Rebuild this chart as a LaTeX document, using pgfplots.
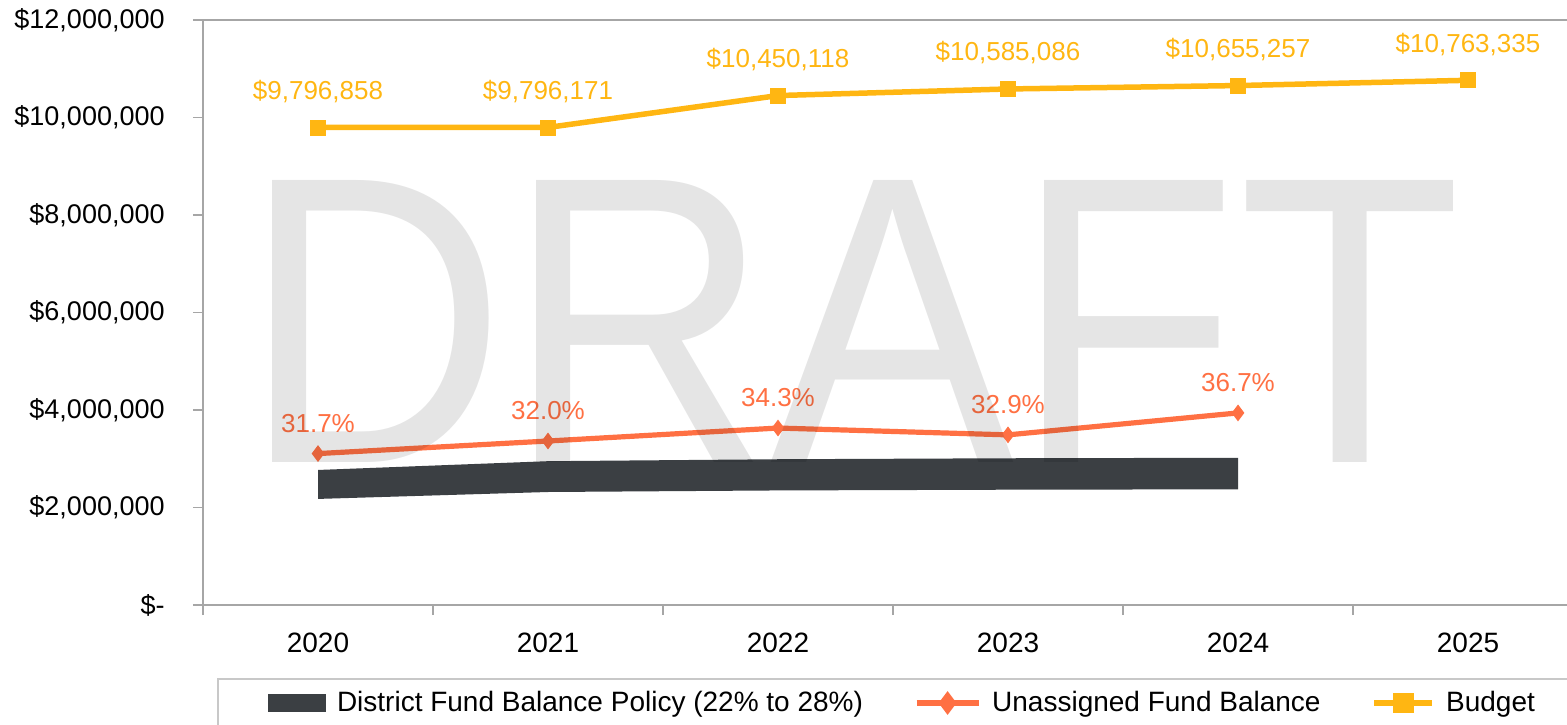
\documentclass[border=0pt]{standalone}
\usepackage{fontspec}
\setmainfont{Liberation Sans}
\usepackage{pgfplots}
\pgfplotsset{compat=1.18}
\definecolor{budget}{HTML}{FFB612}
\definecolor{unas}{HTML}{FF7043}
\definecolor{band}{HTML}{3B3F43}
\definecolor{axgray}{HTML}{A6A6A6}
\definecolor{boxgray}{HTML}{C8C8C8}
\begin{document}
\begin{tikzpicture}
\begin{axis}[
  scale only axis, width=690pt, height=292.5pt,
  at={(101.5pt,59.5pt)}, anchor=south west,
  xmin=-0.5, xmax=5.5, ymin=0, ymax=12000000,
  scaled y ticks=false,
  axis line style={draw=axgray, line width=0.8pt},
  xtick={-0.5,0.5,1.5,2.5,3.5,4.5,5.5},
  xticklabels={},
  extra x ticks={0,1,2,3,4,5},
  extra x tick labels={2020,2021,2022,2023,2024,2025},
  extra x tick style={major tick length=0pt, tick style={draw=none}},
  ytick={0,2000000,4000000,6000000,8000000,10000000,12000000},
  yticklabels={\$-,{\$2,000,000},{\$4,000,000},{\$6,000,000},{\$8,000,000},{\$10,000,000},{\$12,000,000}},
  tick style={draw=axgray, line width=0.8pt},
  tick align=outside, major tick length=5pt,
  xtick pos=left, ytick pos=left,
  xticklabel style={font=\fontsize{14}{16}\selectfont, inner sep=0pt, anchor=north, yshift=-14pt},
  yticklabel style={font=\fontsize{13.5}{16}\selectfont, inner sep=0pt, anchor=east, xshift=-14pt},
  clip=false,
  legend columns=3,
  legend style={at={(0.0471,-0.1675)}, anchor=west, draw=none, fill=none, inner sep=0pt, outer sep=0pt,
    font=\fontsize{14}{16}\selectfont,
    nodes={inner sep=0pt},
    /tikz/every odd column/.append style={column sep=5.5pt},
    /tikz/every even column/.append style={column sep=25.5pt}},
]
\addplot[fill=band, draw=none,
  legend image code/.code={\fill[band] (0pt,-4.5pt) rectangle (29pt,4.5pt);}]
  coordinates {(0,2770000)(1,2950000)(2,2990000)(3,3010000)(4,3020000)
               (4,2373000)(3,2365000)(2,2350000)(1,2318000)(0,2176000)} -- cycle;
\addlegendentry{District Fund Balance Policy (22\% to 28\%)}

\addplot[unas, line width=2.6pt, mark=diamond*, mark size=3.8pt, mark options={solid, fill=unas, draw=unas, line width=0.5pt},
  nodes near coords, point meta=explicit symbolic,
  every node near coord/.append style={font=\fontsize{13}{15}\selectfont, text=unas, anchor=center, yshift=15pt},
  legend image code/.code={\draw[unas, line width=2.6pt] (0pt,0pt) -- (31pt,0pt);
     \fill[unas] (15.5pt,3.8pt) -- (18.35pt,0pt) -- (15.5pt,-3.8pt) -- (12.65pt,0pt) -- cycle;}]
  coordinates {(0,3106000)[31.7\%] (1,3364000)[32.0\%] (2,3630000)[34.3\%] (3,3490000)[32.9\%] (4,3940000)[36.7\%]};
\addlegendentry{Unassigned Fund Balance}

\addplot[budget, line width=2.75pt, mark=square*, mark size=3.75pt, mark options={solid, fill=budget, draw=budget, line width=0.3pt},
  nodes near coords, point meta=explicit symbolic,
  every node near coord/.append style={font=\fontsize{13}{15}\selectfont, text=budget, anchor=center, yshift=18pt},
  legend image code/.code={\draw[budget, line width=2.75pt] (0pt,0pt) -- (29pt,0pt);
     \fill[budget] (10.75pt,-3.75pt) rectangle (18.25pt,3.75pt);}]
  coordinates {(0,9796858)[\$9,796,858] (1,9796171)[\$9,796,171] (2,10450118)[\$10,450,118]
               (3,10585086)[\$10,585,086] (4,10655257)[\$10,655,257] (5,10763335)[\$10,763,335]};
\addlegendentry{Budget}
\end{axis}
\node[anchor=base west, inner sep=0pt, text=black, opacity=0.1] at (121.2pt,131pt)
  {\scalebox{0.892}[1]{\fontsize{205}{205}\selectfont DRAFT}};
\draw[boxgray, line width=0.8pt] (109pt,-20pt) rectangle (820pt,22.5pt);
\pgfresetboundingbox
\path[use as bounding box] (0pt,0pt) rectangle (783.5pt,362pt);
\end{tikzpicture}
\end{document}
